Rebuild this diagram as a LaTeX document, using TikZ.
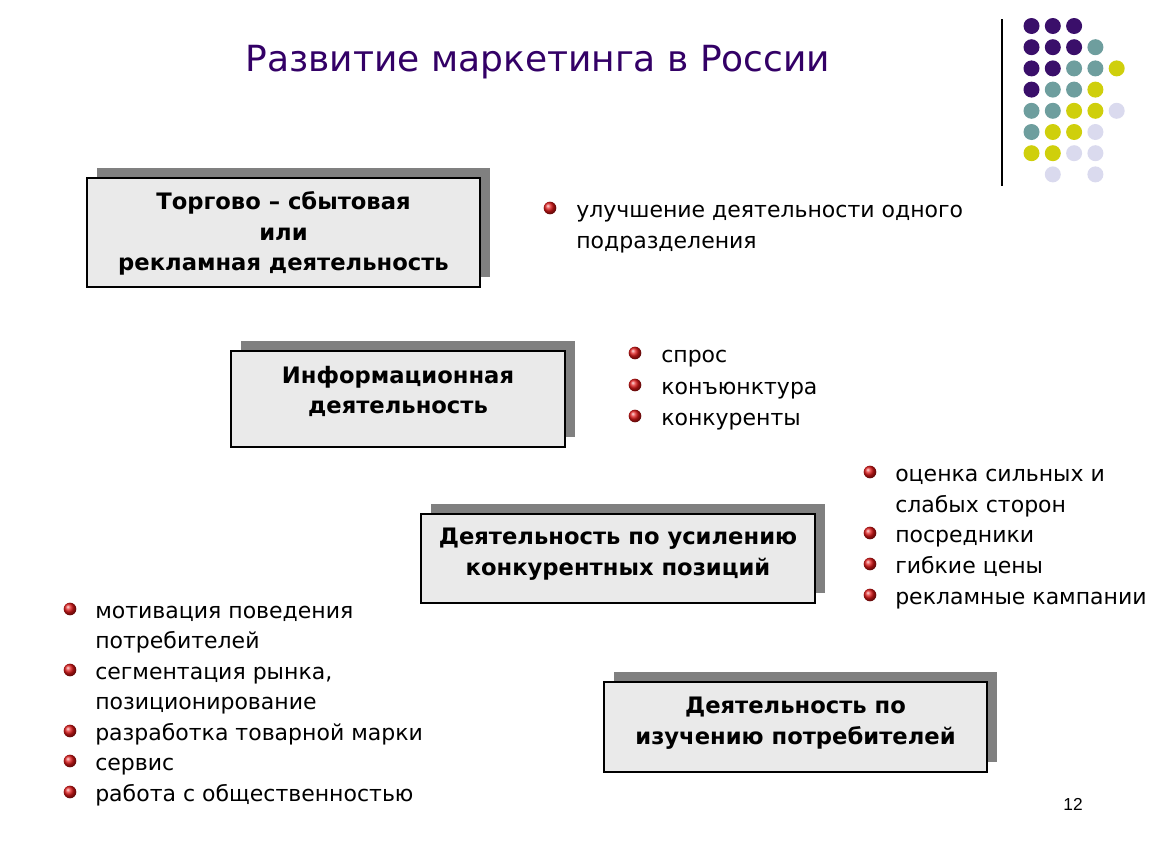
\documentclass[tikz,border=0pt]{standalone}
\usepackage{fontspec}
\setmainfont{DejaVu Sans}
\newfontfamily\numfont{Liberation Sans}
\usetikzlibrary{shadows}
\definecolor{titlecol}{HTML}{330066}
\definecolor{boxgray}{HTML}{EAEAEA}
\definecolor{shadowgray}{HTML}{808080}
\definecolor{dotP}{HTML}{3A0F6A}
\definecolor{dotT}{HTML}{6E9E9E}
\definecolor{dotY}{HTML}{CFCF0C}
\definecolor{dotL}{HTML}{DADAEE}
\definecolor{bulred}{HTML}{E01818}
\tikzset{
  actbox/.style={draw=black, line width=.8pt, fill=boxgray, inner sep=0pt,
    drop shadow={shadow xshift=7.5pt, shadow yshift=7.5pt, fill=shadowgray, opacity=1}},
  acttext/.style={anchor=base, inner sep=0pt, font=\fontsize{17}{20}\selectfont\bfseries},
  itemtext/.style={anchor=base west, inner sep=0pt, font=\fontsize{16.5}{20}\selectfont},
  bul/.style={circle, minimum size=9.5pt, inner sep=0pt, shading=ball, ball color=bulred},
}
\begin{document}
\begin{tikzpicture}[x=.75pt, y=-.75pt]
	\useasboundingbox (0,0) rectangle (1150,864);
	% title and corner decoration
	\node[anchor=base, inner sep=0pt, text=titlecol, font=\fontsize{27}{30}\selectfont] (title) at (538,71) {Развитие маркетинга в России};
	\draw[line width=.9pt] (1002,19) -- (1002,186);
	\foreach \c/\r in {0/0,1/0,2/0,0/1,1/1,2/1,0/2,1/2,0/3}
		\fill[dotP] (1031.5+21.3*\c, 26+21.2*\r) circle (8);
	\foreach \c/\r in {3/1,2/2,3/2,1/3,2/3,0/4,1/4,0/5}
		\fill[dotT] (1031.5+21.3*\c, 26+21.2*\r) circle (8);
	\foreach \c/\r in {4/2,3/3,2/4,3/4,1/5,2/5,0/6,1/6}
		\fill[dotY] (1031.5+21.3*\c, 26+21.2*\r) circle (8);
	\foreach \c/\r in {4/4,3/5,2/6,3/6,1/7,3/7}
		\fill[dotL] (1031.5+21.3*\c, 26+21.2*\r) circle (8);

	% stages
	\node[actbox, minimum width=294.75pt, minimum height=81.75pt] (b1) at (283.5,232.5) {};
	\node[acttext] (b1a) at (283.5,209) {Торгово – сбытовая};
	\node[acttext] (b1b) at (283.5,240) {или};
	\node[acttext] (b1c) at (283.5,270) {рекламная деятельность};

	\node[actbox, minimum width=250.5pt, minimum height=72pt] (b2) at (398,399) {};
	\node[acttext] (b2a) at (398,383) {Информационная};
	\node[acttext] (b2b) at (398,413) {деятельность};

	\node[actbox, minimum width=295.5pt, minimum height=66.75pt] (b3) at (618,558.5) {};
	\node[acttext] (b3a) at (618,544) {Деятельность по усилению};
	\node[acttext] (b3b) at (618,575) {конкурентных позиций};

	\node[actbox, minimum width=287.25pt, minimum height=67.5pt] (b4) at (795.5,727) {};
	\node[acttext] (b4a) at (795.5,713) {Деятельность по};
	\node[acttext] (b4b) at (795.5,744) {изучению потребителей};

	% lists
	\node[bul] (d1-1) at (550,208) {};
	\node[itemtext] (l1-1) at (576,217) {улучшение деятельности одного};
	\node[itemtext] (l1-2) at (576,248) {подразделения};

	\foreach \y/\t [count=\i] in {362/спрос, 394/конъюнктура, 425/конкуренты} {
		\node[bul] (d2-\i) at (635,\y-9) {};
		\node[itemtext] (l2-\i) at (661,\y) {\t};
	}

	\node[bul] (d3-1) at (870,472) {};
	\node[itemtext] (l3-1) at (895,481) {оценка сильных и};
	\node[itemtext] (l3-2) at (895,512) {слабых сторон};
	\node[bul] (d3-3) at (870,533) {};
	\node[itemtext] (l3-3) at (895,542) {посредники};
	\node[bul] (d3-4) at (870,564) {};
	\node[itemtext] (l3-4) at (895,573) {гибкие цены};
	\node[bul] (d3-5) at (870,595) {};
	\node[itemtext] (l3-5) at (895,604) {рекламные кампании};

	\node[bul] (d4-1) at (70,609) {};
	\node[itemtext] (l4-1) at (95,618) {мотивация поведения};
	\node[itemtext] (l4-2) at (95,648) {потребителей};
	\node[bul] (d4-3) at (70,670) {};
	\node[itemtext] (l4-3) at (95,679) {сегментация рынка,};
	\node[itemtext] (l4-4) at (95,709) {позиционирование};
	\node[bul] (d4-5) at (70,731) {};
	\node[itemtext] (l4-5) at (95,740) {разработка товарной марки};
	\node[bul] (d4-6) at (70,761) {};
	\node[itemtext] (l4-6) at (95,770) {сервис};
	\node[bul] (d4-7) at (70,792) {};
	\node[itemtext] (l4-7) at (95,801) {работа с общественностью};

	\node[anchor=base, inner sep=0pt, font=\numfont\fontsize{13}{15}\selectfont] (pagenum) at (1073,810) {12};
\end{tikzpicture}
\end{document}
